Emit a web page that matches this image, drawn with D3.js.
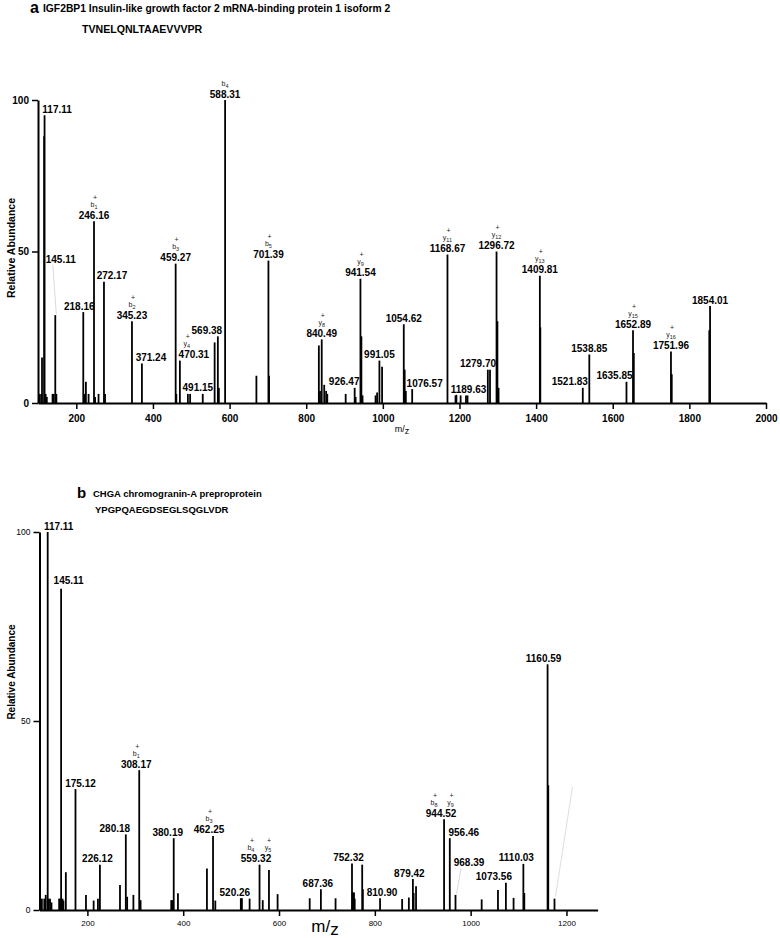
<!DOCTYPE html>
<html>
<head>
<meta charset="utf-8">
<script src="https://cdn.jsdelivr.net/npm/d3@7/dist/d3.min.js"></script>
<style>
  body { margin: 0; background: #fff; }
  svg { display: block; font-family: "Liberation Sans", Arial, Helvetica, sans-serif; }
  .axis path, .axis line { stroke: #000; }
  .ion { opacity: 0.99; }
</style>
</head>
<body>
<svg id="chart" width="780" height="938"></svg>
<script>
// ---- panel a : IGF2BP1 ----
const peaksA = [
  [103, 3], [108, 3], [110.5, 15], [116, 88], [117.11, 95], [120, 3], [123, 2],
  [138, 3], [141, 3], [145.11, 29], [148, 3],
  [218.16, 30], [221, 3], [225, 7], [232, 3], [246.16, 60], [249, 2], [258, 3],
  [272.17, 40], [275, 3], [345.23, 27], [371.24, 13],
  [459.27, 46], [461, 3], [470.31, 14], [491.15, 3], [497, 3], [530, 3],
  [561, 20], [569.38, 22], [572, 5], [588.31, 100], [670, 9], [701.39, 47], [703, 9],
  [833, 19], [836, 4], [840.49, 21], [847, 6], [852, 4], [855, 3],
  [903, 3], [926.47, 5], [929, 2], [941.54, 41], [944, 22], [947, 2.5],
  [981, 2.5], [985, 3.5], [991.05, 14], [998, 12],
  [1054.62, 26], [1057, 11], [1060, 4], [1076.57, 4.6], [1168.67, 49],
  [1189.63, 2.5], [1192, 2.7], [1203, 2.5], [1217, 2.5], [1221, 2.5],
  [1274, 11], [1279.70, 11], [1296.72, 50], [1299, 27], [1302, 5],
  [1409.81, 42], [1411, 25], [1521.83, 5], [1538.85, 16], [1635.85, 7],
  [1652.89, 24], [1655, 16.5], [1751.96, 17], [1754, 9.5], [1852, 24], [1854.01, 32]
];
const labelsA = [117.11, 145.11, 218.16, 246.16, 272.17, 345.23, 371.24, 459.27, 470.31,
  491.15, 569.38, 588.31, 701.39, 840.49, 926.47, 941.54, 991.05, 1054.62, 1076.57,
  1168.67, 1189.63, 1279.70, 1296.72, 1409.81, 1521.83, 1538.85, 1635.85, 1652.89,
  1751.96, 1854.01];
const ionsA = [
  [246.16, 'b', '1', '+'], [345.23, 'b', '2', '+'], [459.27, 'b', '3', '+'],
  [470.31, 'y', '4', '+'], [588.31, 'b', '4', ''], [701.39, 'b', '5', '+'],
  [840.49, 'y', '8', '+'], [941.54, 'y', '9', '+'], [1168.67, 'y', '11', '+'],
  [1296.72, 'y', '12', '+'], [1409.81, 'y', '13', '+'], [1652.89, 'y', '15', '+'],
  [1751.96, 'y', '16', '+']
];
const ticksA = [200, 400, 600, 800, 1000, 1200, 1400, 1600, 1800, 2000];

// ---- panel b : CHGA ----
const peaksB = [
  [105, 3], [110, 3], [113, 4], [117.11, 100], [119, 3], [122, 3], [125, 2],
  [141, 3], [143, 3], [145.11, 85], [148, 3], [150, 2.5], [155, 10],
  [175.12, 32], [197, 4], [213, 2.5], [222, 3], [226.12, 12],
  [268, 6.6], [280.18, 20], [283, 3.5], [296, 4], [308.17, 37], [311, 2.6],
  [375, 2.6], [377, 2.6], [380.19, 19], [389, 4.4],
  [449.5, 11], [462.25, 19.6], [467, 2.5],
  [520.26, 3.1], [522.5, 3.1], [538.6, 3], [559.32, 12], [566, 2.6], [579, 10.6], [597, 4.2],
  [664, 3.1], [687.36, 5.5], [718, 3.1],
  [752.32, 12.3], [753.5, 4.6], [755, 4.6], [756.5, 4.6], [758, 3], [773.6, 12], [775, 5.5],
  [810.90, 3.1], [857, 2.9], [871, 3.3], [879.42, 8.2], [881, 4.5], [886, 6.3],
  [944.52, 24], [956.46, 19], [968.39, 4],
  [1023, 2.8], [1057, 5.3], [1073.56, 7.2], [1089.6, 3.2], [1110.03, 12.2], [1112, 4.5],
  [1160.59, 65], [1162, 33], [1175, 3]
];
const labelsB = [117.11, 145.11, 175.12, 226.12, 280.18, 308.17, 380.19, 462.25, 520.26,
  559.32, 687.36, 752.32, 810.90, 879.42, 944.52, 956.46, 968.39, 1073.56, 1110.03, 1160.59];
const ionsB = [
  [308.17, 'b', '1', '+'], [462.25, 'b', '3', '+'], [559.32, 'b', '4', '+'],
  [559.32, 'y', '5', '+'], [944.52, 'b', '8', '+'], [944.52, 'y', '9', '+']
];
const ticksB = [200, 400, 600, 800, 1000, 1200];

// label nudges (px): [dx, extra lift]
const nudgeA = {
  '117.11': [12.5, 0], '145.11': [5.5, 50], '218.16': [-4, 0], '272.17': [8, 0],
  '371.24': [9, 0], '470.31': [14, 0], '491.15': [10, 0], '569.38': [-11, 0],
  '926.47': [-10.5, 0], '1076.57': [12.5, 0], '1189.63': [13, 0], '1279.70': [-12, 0],
  '1521.83': [-13, 0], '1635.85': [-12, 0]
};
const ionShiftA = { '470.31y': -7 };
const nudgeB = {
  '117.11': [11, 0], '145.11': [7.5, 2], '175.12': [5, 0], '226.12': [-2.5, 0],
  '280.18': [-11, 0], '308.17': [-3, 0], '380.19': [-6, 0], '462.25': [-4, 0],
  '520.26': [-6, 0], '559.32': [-3.6, 0], '687.36': [-3, 0], '752.32': [-3.5, 0],
  '810.90': [2, 0], '879.42': [-3.5, 0], '944.52': [-3, 0], '956.46': [14, 0],
  '968.39': [13.5, 26], '1073.56': [-12, 0], '1110.03': [-7, 0], '1160.59': [-4, 0]
};
const ionShiftB = { '559.32b': -5, '559.32y': 12, '944.52b': -7, '944.52y': 9.5 };

const fmt = d3.format('.2f');
const svg = d3.select('#chart');

function drawPanel(o) {
  const g = svg.append('g');
  const x = d3.scaleLinear().domain(o.xDomain).range(o.xRange);
  const y = d3.scaleLinear().domain([0, 100]).range(o.yRange);
  const rel = new Map(o.peaks.map(p => [fmt(p[0]), p[1]]));

  // titles
  g.append('text').attr('x', o.letterPos[0]).attr('y', o.letterPos[1])
    .style('font-size', o.letterSize + 'px').style('font-weight', 'bold').text(o.letter);
  g.append('text').attr('x', o.titlePos[0]).attr('y', o.titlePos[1])
    .style('font-size', o.titleSize + 'px').style('font-weight', 'bold').text(o.title);
  g.append('text').attr('x', o.seqPos[0]).attr('y', o.seqPos[1])
    .style('font-size', o.seqSize + 'px').style('font-weight', 'bold').text(o.seq);

  // peaks
  g.append('g').selectAll('line').data(o.peaks).join('line')
    .attr('x1', d => x(d[0])).attr('x2', d => x(d[0]))
    .attr('y1', y(0)).attr('y2', d => y(d[1]))
    .attr('stroke', '#000').attr('stroke-width', 1.8);

  // axes
  const xa = g.append('g').attr('class', 'axis').attr('transform', `translate(0,${y(0)})`)
    .call(d3.axisBottom(x).tickValues(o.ticks).tickSize(6).tickSizeOuter(0)
      .tickPadding(o.tickPad).tickFormat(d3.format('d')));
  xa.select('.domain').attr('stroke-width', 2);
  xa.selectAll('.tick line').attr('stroke-width', 1.5);
  xa.selectAll('text').attr('font-family', o.tickFont).style('font-size', o.tickSize + 'px')
    .style('font-weight', o.tickWeight).attr('fill', '#000');

  const ya = g.append('g').attr('class', 'axis').attr('transform', `translate(${x(o.xDomain[0])},0)`)
    .call(d3.axisLeft(y).tickValues([0, 50, 100]).tickSize(6).tickSizeOuter(0));
  ya.select('.domain').attr('stroke-width', 2);
  ya.selectAll('.tick line').attr('stroke-width', 1.5);
  ya.selectAll('text').attr('font-family', o.tickFont).style('font-size', o.yTickSize + 'px')
    .style('font-weight', o.tickWeight).attr('fill', '#000');

  g.append('text').attr('transform', `translate(${o.yTitlePos[0]},${o.yTitlePos[1]}) rotate(-90)`)
    .attr('text-anchor', 'middle').style('font-size', o.yTitleSize + 'px')
    .style('font-weight', 'bold').text('Relative Abundance');

  const mz = g.append('text').attr('x', o.mzPos[0]).attr('y', o.mzPos[1])
    .attr('text-anchor', 'middle').style('font-size', o.mzSize + 'px');
  mz.append('tspan').text('m/');
  mz.append('tspan').attr('dy', o.mzSize * 0.2).text('z');

  // value labels
  const lab = g.append('g');
  const base = {};
  o.labels.forEach(v => {
    const key = fmt(v);
    const n = o.nudge[key] || [0, 0];
    const cx = x(v) + n[0];
    const by = y(rel.get(key)) - 2.5 - n[1];
    base[key] = [cx, by];
    lab.append('text').attr('x', cx).attr('y', by).attr('text-anchor', 'middle')
      .style('font-size', '10px').style('font-weight', 'bold').text(key);
    if (n[1] > 10) {
      lab.append('line').attr('x1', cx - 8).attr('y1', by + 2)
        .attr('x2', x(v) + 1).attr('y2', y(rel.get(key)) - 1)
        .attr('stroke', '#c8c8c8').attr('stroke-width', 0.7);
    }
  });

  // ion annotations
  const ions = g.append('g').attr('class', 'ion').attr('fill', '#222');
  o.ions.forEach(d => {
    const key = fmt(d[0]);
    const [cx0, by] = base[key];
    const cx = cx0 + (o.ionShift[key + d[1]] || 0);
    const t = ions.append('text').attr('x', cx).attr('y', by - 12)
      .attr('text-anchor', 'middle').style('font-size', '7px');
    t.append('tspan').text(d[1]);
    t.append('tspan').attr('dy', 2).style('font-size', '5.5px').text(d[2]);
    if (d[3]) {
      ions.append('text').attr('x', cx + 1).attr('y', by - 19).attr('text-anchor', 'middle')
        .style('font-size', '7px').text(d[3]);
    }
  });
  return { g, x, y };
}

drawPanel({
  peaks: peaksA, labels: labelsA, ions: ionsA, ticks: ticksA, nudge: nudgeA, ionShift: ionShiftA,
  xDomain: [100, 2000], xRange: [38, 766], yRange: [403, 100],
  letter: 'a', letterPos: [30, 13], letterSize: 16,
  title: 'IGF2BP1 Insulin-like growth factor 2 mRNA-binding protein 1 isoform 2',
  titlePos: [43, 12], titleSize: 10.3,
  seq: 'TVNELQNLTAAEVVVPR', seqPos: [82, 33], seqSize: 10.6,
  tickFont: '"Liberation Sans Narrow", "Liberation Sans", Arial, sans-serif',
  tickSize: 10, yTickSize: 10, tickWeight: 'bold', tickPad: 6,
  yTitlePos: [15, 248], yTitleSize: 10.5,
  mzPos: [402, 432], mzSize: 9
});

const pb = drawPanel({
  peaks: peaksB, labels: labelsB, ions: ionsB, ticks: ticksB, nudge: nudgeB, ionShift: ionShiftB,
  xDomain: [100, 1265], xRange: [39.5, 597.6], yRange: [910, 532],
  letter: 'b', letterPos: [77, 498], letterSize: 15,
  title: 'CHGA chromogranin-A preproprotein', titlePos: [93, 497], titleSize: 9.5,
  seq: 'YPGPQAEGDSEGLSQGLVDR', seqPos: [95, 513], seqSize: 9.5,
  tickFont: '"Liberation Sans Narrow", "Liberation Sans", Arial, sans-serif',
  tickSize: 8, yTickSize: 8.5, tickWeight: 'normal', tickPad: 4,
  yTitlePos: [15, 672], yTitleSize: 10,
  mzPos: [325, 932], mzSize: 17
});

// faint stray leader near the 1160.59 peak
pb.g.append('line')
  .attr('x1', pb.x(1175) + 1).attr('y1', pb.y(3) - 2)
  .attr('x2', pb.x(1175) + 18).attr('y2', pb.y(3) - 112)
  .attr('stroke', '#d0d0d0').attr('stroke-width', 0.7);
</script>
</body>
</html>
